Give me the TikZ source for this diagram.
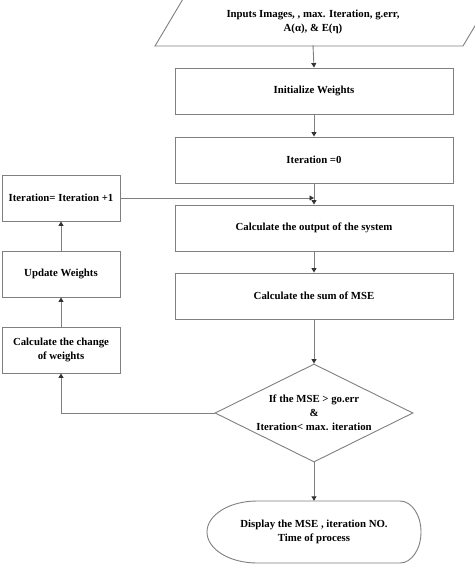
\documentclass[tikz,border=0pt]{standalone}
\usepackage{fontspec}
\setmainfont{Liberation Serif}
\definecolor{cLine}{HTML}{7F7F7F}
\usetikzlibrary{shapes,arrows,arrows.meta}
\usetikzlibrary{calc}

\begin{document}
\begin{tikzpicture}[x=1pt, y=-1pt,
		font=\bfseries\fontsize{10.8}{14}\selectfont,
		box/.style={draw=cLine, line width=0.9pt, minimum width=278pt, minimum height=46pt, inner sep=0pt, align=center},
		sidebox/.style={box, minimum width=118pt},
		flow/.style={draw=cLine, line width=0.9pt, -{Triangle[length=4.5pt, width=5pt, color=black!80]}}]
			\useasboundingbox (0,0) rectangle (474,564);
			% input parallelogram
			\draw [cLine, line width=0.9pt] (155,46) -- (183,-1) -- (491,-1) -- (463,46) -- cycle;
			\node [minimum height=46pt, inner sep=0pt, align=center] (inp) at (313,22) {Inputs Images, , max. Iteration, g.err,\\ A(α), \& E(η)};
			% main column
			\node [box] (init) at (314,91) {Initialize Weights};
			\node [box] (iter0) at (314,160) {Iteration =0};
			\node [box] (calcout) at (314,228) {Calculate the output of the system};
			\node [box] (summse) at (314,296) {Calculate the sum of MSE};
			\node [diamond, draw=cLine, line width=0.9pt, aspect=2, inner sep=0pt, minimum width=198pt, minimum height=98pt, align=center] (dec) at (314,413) {If the MSE > go.err\\ \&\\ Iteration< max. iteration};
			% display terminal
			\draw [cLine, line width=0.9pt] (257,501) -- (400,501) arc[start angle=-90, end angle=90, x radius=21, y radius=31] -- (257,563) arc[start angle=90, end angle=270, x radius=50, y radius=31];
			\node [minimum height=62pt, inner sep=0pt, align=center] (disp) at (314,532) {Display the MSE , iteration NO.\\ Time of process};
			% loop column
			\node [sidebox] (incr) at (61,198) {Iteration= Iteration +1};
			\node [sidebox] (upd) at (61,274) {Update Weights};
			\node [sidebox] (chg) at (61,350) {Calculate the change\\ of weights};
			% connectors
			\draw [flow] (inp.south) -- (init.north);
			\draw [flow] (init) -- (iter0);
			\draw [flow] (iter0) -- (calcout);
			\draw [flow] (calcout) -- (summse);
			\draw [flow] (summse) -- (dec);
			\draw [flow] (dec) -- (disp);
			\draw [flow] (dec.west) -| (chg.south);
			\draw [flow] (chg) -- (upd);
			\draw [flow] (upd) -- (incr);
			\draw [flow] (incr.east) -- (incr.east -| calcout.north);
		\end{tikzpicture}
\end{document}
